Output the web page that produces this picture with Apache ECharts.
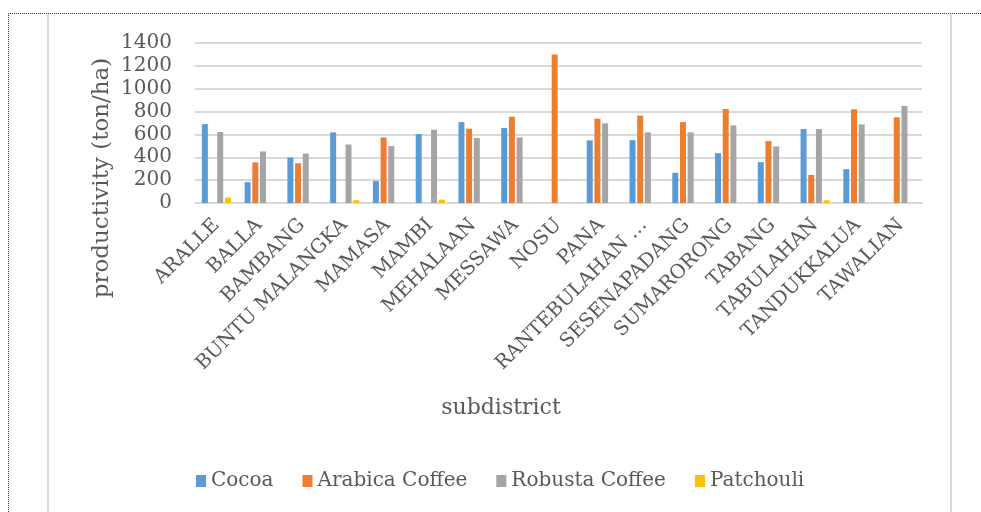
<!DOCTYPE html>
<html>
<head>
<meta charset="utf-8">
<script src="https://cdn.jsdelivr.net/npm/echarts@6/dist/echarts.min.js"></script>
<style>
  html, body { margin: 0; padding: 0; background: #fff; }
  #chart { width: 981px; height: 512px; }
</style>
</head>
<body>
<div id="chart"></div>
<script>
// Subdistricts along the category axis
const subdistricts = [
  'ARALLE', 'BALLA', 'BAMBANG', 'BUNTU MALANGKA', 'MAMASA', 'MAMBI',
  'MEHALAAN', 'MESSAWA', 'NOSU', 'PANA', 'RANTEBULAHAN …', 'SESENAPADANG',
  'SUMARORONG', 'TABANG', 'TABULAHAN', 'TANDUKKALUA', 'TAWALIAN'
];

// Productivity (ton/ha) per commodity; null = no production recorded
const cocoa = [690, 182, 398, 618, 193, 603, 708, 656, null, 548, 550, 264, 436, 357, 647, 296, null];
const arabicaCoffee = [null, 355, 348, null, 574, null, 650, 755, 1300, 738, 764, 708, 823, 542, 246, 820, 750];
const robustaCoffee = [621, 451, 433, 512, 498, 641, 568, 574, null, 697, 618, 618, 679, 495, 647, 688, 849];
const patchouli = [47, null, null, 24, null, 30, null, null, null, null, null, null, null, null, 24, null, null];

// Value axis ticks
const yMin = 0, yMax = 1400, yStep = 200;

const textColor = '#595959';
const fontFamily = '"DejaVu Serif", serif';

const chart = echarts.init(document.getElementById('chart'));

function barSeries(name, data, color) {
  return {
    name: name,
    type: 'bar',
    data: data,
    barWidth: 6,
    barGap: '28%',
    itemStyle: { color: color },
    emphasis: { disabled: true }
  };
}

chart.setOption({
  animation: false,
  backgroundColor: '#ffffff',
  grid: { left: 195, right: 59, top: 43, bottom: 309, containLabel: false },
  legend: {
    left: 191,
    top: 466,
    itemWidth: 10,
    itemHeight: 12,
    itemGap: 29,
    icon: 'rect',
    textStyle: { color: textColor, fontFamily: fontFamily, fontSize: 20 },
    data: ['Cocoa', 'Arabica Coffee', 'Robusta Coffee', 'Patchouli']
  },
  xAxis: {
    type: 'category',
    data: subdistricts,
    axisTick: { show: false },
    axisLine: { lineStyle: { color: '#D9D9D9', width: 2 } },
    axisLabel: {
      rotate: 45,
      interval: 0,
      margin: 19,
      color: textColor,
      fontFamily: fontFamily,
      fontSize: 19.5
    }
  },
  yAxis: {
    type: 'value',
    min: yMin,
    max: yMax,
    interval: yStep,
    axisLine: { show: false },
    axisTick: { show: false },
    splitLine: { lineStyle: { color: '#D9D9D9', width: 2 } },
    axisLabel: {
      margin: 23,
      color: textColor,
      fontFamily: fontFamily,
      fontSize: 20,
      formatter: function (v) { return String(v); }
    }
  },
  series: [
    barSeries('Cocoa', cocoa, '#5B9BD5'),
    barSeries('Arabica Coffee', arabicaCoffee, '#ED7D31'),
    barSeries('Robusta Coffee', robustaCoffee, '#A5A5A5'),
    barSeries('Patchouli', patchouli, '#FFC000')
  ],
  graphic: [
    // page border (dotted) and chart frame
    { type: 'line', silent: true, shape: { x1: 8, y1: 13.5, x2: 981, y2: 13.5 },
      style: { stroke: '#333', lineWidth: 1, lineDash: [1, 1] } },
    { type: 'line', silent: true, shape: { x1: 8.5, y1: 13, x2: 8.5, y2: 512 },
      style: { stroke: '#333', lineWidth: 1, lineDash: [1, 1] } },
    { type: 'line', silent: true, shape: { x1: 48, y1: 14, x2: 48, y2: 512 },
      style: { stroke: '#D9D9D9', lineWidth: 2 } },
    { type: 'line', silent: true, shape: { x1: 951, y1: 14, x2: 951, y2: 512 },
      style: { stroke: '#D9D9D9', lineWidth: 2 } },
    // axis titles
    { type: 'text', silent: true, x: 102, y: 178, rotation: Math.PI / 2,
      style: { text: 'productivity (ton/ha)', fill: textColor, font: '23px ' + fontFamily,
               align: 'center', verticalAlign: 'middle' } },
    { type: 'text', silent: true, x: 501, y: 408,
      style: { text: 'subdistrict', fill: textColor, font: '22px ' + fontFamily,
               align: 'center', verticalAlign: 'middle' } }
  ]
});
</script>
</body>
</html>
